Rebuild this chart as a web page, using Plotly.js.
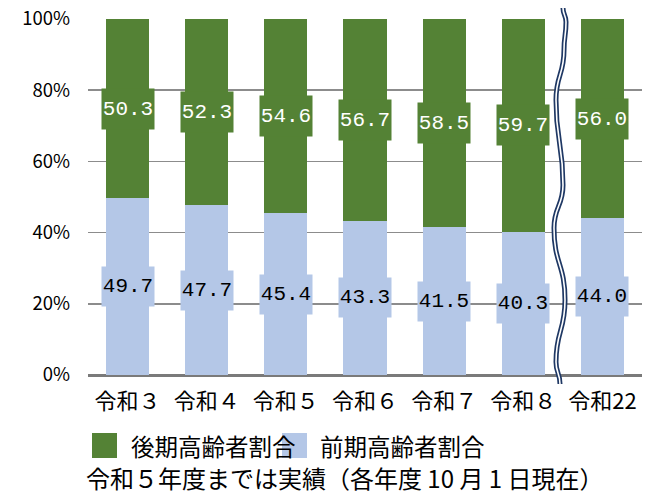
<!DOCTYPE html>
<html>
<head>
<meta charset="utf-8">
<script src="https://cdn.plot.ly/plotly-3.0.1.min.js"></script>
<style>html,body{margin:0;padding:0;background:#fff;}#chart{width:652px;height:494px;}</style>
</head>
<body>
<div id="chart"></div>
<script>
const categories = ["令和３", "令和４", "令和５", "令和６", "令和７", "令和８", "令和22"];
const seriesNames = ["後期高齢者割合", "前期高齢者割合"];
const lateElderly = [50.3, 52.3, 54.6, 56.7, 58.5, 59.7, 56.0];
const earlyElderly = [49.7, 47.7, 45.4, 43.3, 41.5, 40.3, 44.0];
const yTicks = [0, 20, 40, 60, 80, 100];
const noteText = "令和５年度までは実績（各年度 10 月 1 日現在）";

const GREEN = "#548235", BLUE = "#B4C7E7", NAVY = "#1F3864";
const JP = "'Noto Sans CJK JP', 'Noto Sans', sans-serif";
const NUM = "'Liberation Mono', 'DejaVu Sans Mono', monospace";

// plot area in pixels (for decoration placement)
const L = 88, R = 642, T = 19, B = 375, W = 652, H = 494;
const px = x => (x - L) / (R - L);
const py = y => (B - y) / (B - T);

const traces = [
  {type: "bar", name: seriesNames[1], x: categories, y: earlyElderly, marker: {color: BLUE}, hoverinfo: "skip"},
  {type: "bar", name: seriesNames[0], x: categories, y: lateElderly, marker: {color: GREEN}, hoverinfo: "skip"}
];

const annotations = [];
categories.forEach((c, i) => {
  annotations.push({x: c, y: earlyElderly[i] / 2, xref: "x", yref: "y", text: earlyElderly[i].toFixed(1),
    showarrow: false, bgcolor: BLUE, width: 50, height: 37, font: {family: NUM, size: 21, color: "#000"}});
  annotations.push({x: c, y: earlyElderly[i] + lateElderly[i] / 2, xref: "x", yref: "y", text: lateElderly[i].toFixed(1),
    showarrow: false, bgcolor: GREEN, width: 50, height: 38, font: {family: NUM, size: 21, color: "#fff"}});
});

// custom legend
const legendItems = [
  {name: seriesNames[0], color: GREEN, sx: 92, tx: 129},
  {name: seriesNames[1], color: BLUE, sx: 282, tx: 318}
];
const shapes = [];
legendItems.forEach(it => {
  shapes.push({type: "rect", xref: "paper", yref: "paper", x0: px(it.sx), x1: px(it.sx + 25), y0: py(433), y1: py(458),
    fillcolor: it.color, line: {width: 0}});
  annotations.push({xref: "paper", yref: "paper", x: px(it.tx), y: py(445.5), xanchor: "left", yanchor: "middle",
    text: it.name, showarrow: false, font: {family: JP, size: 23.5, color: "#000"}});
});
annotations.push({xref: "paper", yref: "paper", x: px(344), y: py(477.5), xanchor: "center", yanchor: "middle",
  text: noteText, showarrow: false, font: {family: JP, size: 24, color: "#000"}});

// axis break symbol (double wavy line)
const wave = [[563,8],[566,22],[564,50],[556,100],[563,185],[554,228],[565,300],[556,362],[560,384]];
function wavePath(pts) {
  let d = "M" + px(pts[0][0]) + "," + py(pts[0][1]);
  for (let i = 1; i < pts.length; i++) {
    const p0 = pts[i - 1], p1 = pts[i];
    const my = (p0[1] + p1[1]) / 2;
    d += " C" + px(p0[0]) + "," + py(my) + " " + px(p1[0]) + "," + py(my) + " " + px(p1[0]) + "," + py(p1[1]);
  }
  return d;
}
const wp = wavePath(wave);
shapes.push({type: "path", xref: "paper", yref: "paper", path: wp, line: {color: NAVY, width: 5}, layer: "above"});
shapes.push({type: "path", xref: "paper", yref: "paper", path: wp, line: {color: "#fff", width: 1.6}, layer: "above"});

const layout = {
  width: W, height: H,
  margin: {l: L, r: W - R, t: T, b: H - B, pad: 0},
  paper_bgcolor: "#fff", plot_bgcolor: "#fff",
  barmode: "stack", bargap: 0.456,
  showlegend: false,
  xaxis: {type: "category", showgrid: false, showline: false, zeroline: false, ticks: "",
    tickfont: {family: JP, size: 22, color: "#000"}, ticklabelstandoff: 11},
  yaxis: {range: [0, 100], tickvals: yTicks, ticktext: yTicks.map(v => v + "%"), showgrid: true,
    gridcolor: "#8c8c8c", gridwidth: 1.5, zeroline: true, zerolinecolor: "#7a7a7a", zerolinewidth: 3,
    showline: false, ticks: "", tickfont: {family: JP, size: 18.5, color: "#000"}, ticklabelstandoff: 17},
  annotations: annotations,
  shapes: shapes
};

Plotly.newPlot("chart", traces, layout, {staticPlot: true});
</script>
</body>
</html>
